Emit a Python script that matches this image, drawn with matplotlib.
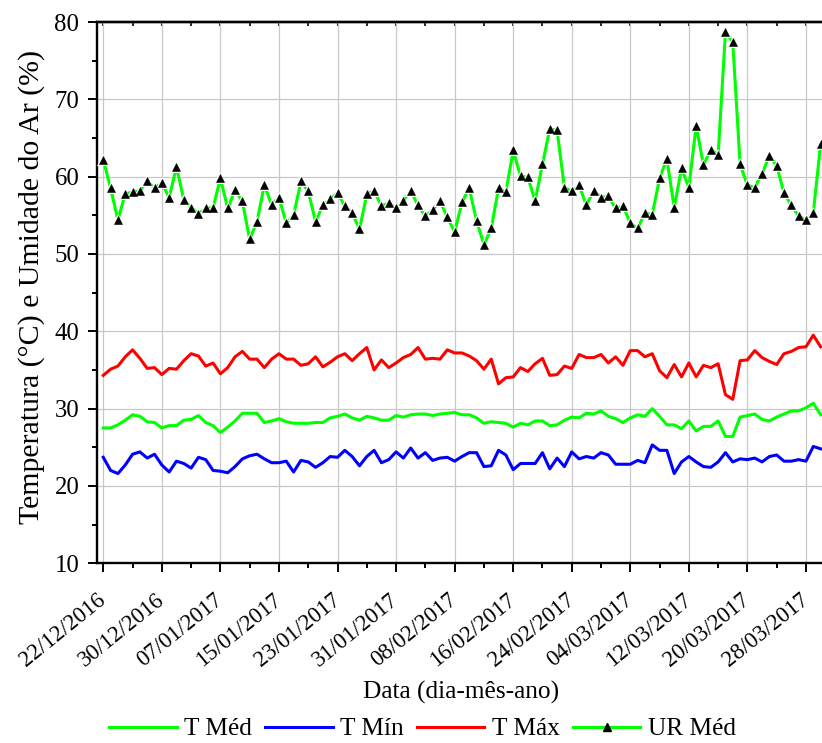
import matplotlib
matplotlib.use("Agg")
import matplotlib.pyplot as plt
from matplotlib.lines import Line2D
import matplotlib.dates as mdates
import pandas as pd
import numpy as np

plt.rcParams['font.family'] = ['Liberation Serif', 'DejaVu Serif']

# Daily series, 22/12/2016 .. 30/03/2017
start_date = "2016-12-22"
end_date = "2017-03-30"

ur_med = [62.2, 58.5, 54.4, 57.8, 58.0, 58.2, 59.4, 58.5, 59.2, 57.3, 61.3, 57.0, 56.0, 55.2, 55.9, 56.0,
          59.8, 55.9, 58.3, 56.8, 51.9, 54.2, 58.9, 56.4, 57.3, 54.0, 55.0, 59.4, 58.1, 54.2, 56.3, 57.1, 57.9,
          56.2, 55.3, 53.2, 57.7, 58.2, 56.2, 56.6, 55.9, 56.9, 58.2, 56.3, 54.9, 55.7, 56.8, 54.8, 52.8,
          56.7, 58.5, 54.3, 51.2, 53.3, 58.5, 58.0, 63.4, 60.1, 59.9, 56.9, 61.6, 66.2, 66.0, 58.6, 58.1, 58.9,
          56.3, 58.2, 57.3, 57.5, 55.9, 56.2, 54.0, 53.3, 55.3, 55.1, 59.8, 62.3, 56.0, 61.1, 58.6, 66.6,
          61.5, 63.5, 62.8, 78.7, 77.4, 61.6, 58.9, 58.6, 60.4, 62.7, 61.4, 57.9, 56.3, 54.9, 54.4, 55.3, 64.2]

t_max = [34.3, 35.1, 35.5, 36.7, 37.6, 36.5, 35.2, 35.3, 34.4, 35.2, 35.1, 36.2, 37.1, 36.8, 35.5, 35.9,
         34.5, 35.3, 36.7, 37.4, 36.4, 36.4, 35.3, 36.4, 37.1, 36.4, 36.4, 35.6, 35.8, 36.7, 35.4, 36.0, 36.7,
         37.1, 36.2, 37.1, 37.9, 35.0, 36.3, 35.3, 35.9, 36.6, 37.0, 37.9, 36.4, 36.5, 36.4, 37.6, 37.2,
         37.2, 36.8, 36.2, 35.1, 36.4, 33.2, 34.0, 34.1, 35.3, 34.8, 35.8, 36.5, 34.3, 34.4, 35.5, 35.2, 37.0,
         36.6, 36.6, 37.0, 35.9, 36.7, 35.6, 37.5, 37.5, 36.7, 37.1, 34.9, 34.0, 35.7, 34.1, 35.9, 34.1,
         35.6, 35.3, 35.8, 31.8, 31.2, 36.2, 36.3, 37.5, 36.6, 36.1, 35.7, 37.1, 37.4, 37.9, 38.0, 39.5, 38.0]

t_med = [27.5, 27.5, 27.9, 28.5, 29.2, 29.0, 28.3, 28.2, 27.5, 27.8, 27.8, 28.5, 28.6, 29.1, 28.2, 27.8,
         26.9, 27.6, 28.4, 29.4, 29.4, 29.4, 28.2, 28.4, 28.7, 28.3, 28.1, 28.1, 28.1, 28.2, 28.2, 28.8, 29.0,
         29.3, 28.8, 28.5, 29.0, 28.8, 28.5, 28.5, 29.1, 28.9, 29.2, 29.3, 29.3, 29.1, 29.3, 29.4, 29.5,
         29.2, 29.2, 28.8, 28.1, 28.3, 28.2, 28.1, 27.6, 28.1, 27.9, 28.4, 28.4, 27.8, 27.9, 28.5, 28.9, 28.8,
         29.4, 29.3, 29.7, 29.0, 28.7, 28.2, 28.8, 29.2, 29.0, 30.0, 29.0, 27.9, 27.9, 27.4, 28.4, 27.1,
         27.7, 27.7, 28.4, 26.4, 26.4, 28.9, 29.1, 29.3, 28.6, 28.4, 28.9, 29.3, 29.7, 29.7, 30.1, 30.7, 29.2]

t_min = [23.7, 22.0, 21.6, 22.7, 24.1, 24.4, 23.6, 24.1, 22.7, 21.8, 23.2, 22.9, 22.3, 23.7, 23.4, 22.0,
         21.9, 21.7, 22.5, 23.5, 23.9, 24.1, 23.5, 23.0, 23.0, 23.2, 21.8, 23.3, 23.1, 22.4, 23.0, 23.8, 23.7,
         24.6, 23.8, 22.6, 23.8, 24.6, 23.0, 23.4, 24.4, 23.6, 24.9, 23.6, 24.3, 23.3, 23.6, 23.7, 23.2,
         23.8, 24.3, 24.3, 22.5, 22.6, 24.6, 24.0, 22.1, 22.9, 22.9, 22.9, 24.3, 22.2, 23.6, 22.5, 24.4, 23.5,
         23.8, 23.6, 24.3, 24.0, 22.8, 22.8, 22.8, 23.3, 23.0, 25.3, 24.6, 24.6, 21.6, 23.1, 23.8, 23.1,
         22.5, 22.4, 23.1, 24.3, 23.1, 23.5, 23.4, 23.6, 23.1, 23.8, 24.0, 23.2, 23.2, 23.4, 23.2, 25.1, 24.8]

series_labels = ["T Méd", "T Mín", "T Máx", "UR Méd"]
y_ticks = [10, 20, 30, 40, 50, 60, 70, 80]

GREEN = "#00FF00"
BLUE = "#0000FF"
RED = "#FF0000"

dates = pd.date_range(start_date, end_date, freq="D")
major_dates = dates[::8]
minor_dates = dates[::4]
tick_labels = [d.strftime("%d/%m/%Y") for d in major_dates]

fig = plt.figure(figsize=(8.22, 7.43), dpi=100)
ax = fig.add_axes([96.7 / 822, 179.8 / 743, 742.2 / 822, 541.1 / 743])

lw = 2.2
ms = 5.8
ax.plot(dates, t_med, color=GREEN, lw=lw, zorder=3)
ax.plot(dates, t_min, color=BLUE, lw=lw, zorder=3)
ax.plot(dates, t_max, color=RED, lw=lw, zorder=3)
ax.plot(dates, ur_med, color=GREEN, lw=lw, zorder=3)
# white halo under the symbols leaves a small gap in the line
ax.plot(dates, ur_med, ls="none", marker="^", ms=ms + 3.0, color="white", mew=0, zorder=4)
ax.plot(dates, ur_med, ls="none", marker="^", ms=ms, mfc="black", mec="black", mew=0.4, zorder=5)

x0 = mdates.date2num(dates[0])
ax.set_xlim(x0 - 0.9, x0 + 100.5)
ax.set_ylim(10, 80)

ax.set_xticks(major_dates)
ax.set_xticklabels(tick_labels, rotation=39, ha="right", va="center", rotation_mode="anchor", fontsize=16.5)
ax.set_xticks(minor_dates, minor=True)
ax.set_yticks(y_ticks)
ax.set_yticklabels([str(v) for v in y_ticks], fontsize=17.8)
ax.set_yticks(np.arange(15, 80, 10), minor=True)

ax.grid(True, which="major", color="#c8c8c8", lw=0.9, zorder=0)
ax.set_axisbelow(True)

for side in ("left", "bottom", "top"):
    ax.spines[side].set_linewidth(1.7)
ax.spines["right"].set_visible(False)

ax.tick_params(axis="both", which="major", direction="out", length=6.5, width=1.4, pad=6)
ax.tick_params(axis="both", which="minor", direction="out", length=3.6, width=1.4)
ax.tick_params(axis="x", which="major", pad=18)

top = ax.secondary_xaxis("top")
top.set_xticks(major_dates)
top.set_xticks(minor_dates, minor=True)
top.tick_params(which="both", direction="in", length=3, width=1.2, labeltop=False)
top.spines["top"].set_linewidth(1.7)

ax.set_ylabel("Temperatura (°C) e Umidade do Ar (%)", fontsize=21.5)
ax.yaxis.set_label_coords(-0.0697, 0.51)
ax.set_xlabel("Data (dia-mês-ano)", fontsize=18.3)
ax.xaxis.set_label_coords(0.491, -0.218)

handles = [
    Line2D([], [], color=GREEN, lw=lw),
    Line2D([], [], color=BLUE, lw=lw),
    Line2D([], [], color=RED, lw=lw),
    Line2D([], [], color=GREEN, lw=lw, marker="^", ms=ms, mfc="black", mec="black"),
]
fig.legend(handles, series_labels, loc="center", bbox_to_anchor=(422.5 / 822, 1 - 729 / 743),
           ncol=4, frameon=False, fontsize=18.3, handlelength=2.64, handletextpad=0.28,
           columnspacing=0.55, borderaxespad=0, borderpad=0)

fig.savefig("out.png", dpi=100)
